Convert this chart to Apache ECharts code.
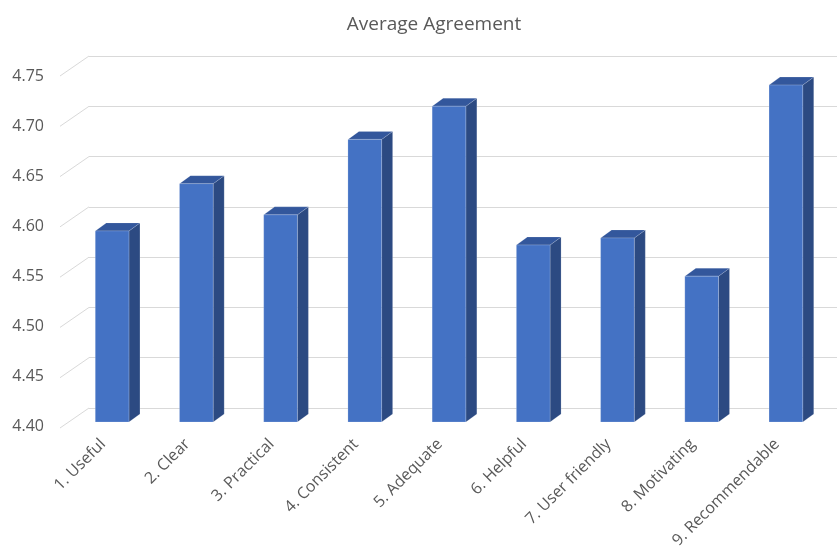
<!DOCTYPE html>
<html>
<head>
<meta charset="utf-8">
<script src="https://cdn.jsdelivr.net/npm/echarts@6/dist/echarts.min.js"></script>
<style>
  html, body { margin: 0; padding: 0; background: #fff; }
  #chart { width: 837px; height: 551px; }
</style>
</head>
<body>
<div id="chart"></div>
<script>
// Survey items and their mean agreement score
const categories = ['1. Useful', '2. Clear', '3. Practical', '4. Consistent', '5. Adequate',
                    '6. Helpful', '7. User friendly', '8. Motivating', '9. Recommendable'];
const agreement = [4.590, 4.637, 4.606, 4.681, 4.714, 4.576, 4.583, 4.545, 4.735];

// Value axis range and tick step
const yMin = 4.40;
const yMax = 4.75;
const yStep = 0.05;
const yTicks = [4.40, 4.45, 4.50, 4.55, 4.60, 4.65, 4.70, 4.75];

// Oblique 3D look: wall depth, bar front-face offset and bar depth (px)
const WALL = [29, -20];
const FACE = [-9, 14];
const DEPTH = [11, -8];

const TEXT = '#595959';
const FONT = "'Open Sans', 'Liberation Sans', sans-serif";

const chart = echarts.init(document.getElementById('chart'), null, { renderer: 'canvas' });

function bar3d(params, api) {
  const i = api.value(0);
  const v = api.value(1);
  const top = api.coord([i, v]);
  const base = api.coord([i, yMin]);
  const w = api.size([1, 0])[0] * 0.4;
  const x0 = top[0] + FACE[0] - w / 2;
  const x1 = x0 + w;
  const ty = top[1] + FACE[1];
  const by = base[1] + FACE[1];
  const dx = DEPTH[0], dy = DEPTH[1];
  return {
    type: 'group',
    children: [
      {
        type: 'polygon',
        shape: { points: [[x1, ty], [x1 + dx, ty + dy], [x1 + dx, by + dy], [x1, by]] },
        style: { fill: '#2C4A82', stroke: 'rgba(255,255,255,0.25)', lineWidth: 0.6 }
      },
      {
        type: 'polygon',
        shape: { points: [[x0, ty], [x0 + dx, ty + dy], [x1 + dx, ty + dy], [x1, ty]] },
        style: { fill: '#33579C', stroke: 'rgba(255,255,255,0.25)', lineWidth: 0.6 }
      },
      {
        type: 'rect',
        shape: { x: x0, y: ty, width: w, height: by - ty },
        style: { fill: '#4472C4', stroke: 'rgba(255,255,255,0.3)', lineWidth: 0.6 }
      }
    ]
  };
}

function wallDiagonal(params, api) {
  const y = api.coord([0, api.value(1)])[1];
  const x = params.coordSys.x;
  return {
    type: 'line',
    shape: { x1: x - WALL[0], y1: y - WALL[1], x2: x, y2: y },
    style: { stroke: '#D9D9D9', lineWidth: 1 }
  };
}

const hiddenCategory = (gridIndex) => ({
  type: 'category', gridIndex, data: categories,
  axisLine: { show: false }, axisTick: { show: false }, axisLabel: { show: false }
});
const hiddenValue = (gridIndex) => ({
  type: 'value', gridIndex, min: yMin, max: yMax, interval: yStep,
  axisLine: { show: false }, axisTick: { show: false }, axisLabel: { show: false },
  splitLine: { show: false }
});

const option = {
  backgroundColor: '#ffffff',
  animation: false,
  title: {
    text: 'Average Agreement',
    left: 429,
    top: 10,
    textAlign: 'center',
    textStyle: { color: TEXT, fontFamily: FONT, fontSize: 19, fontWeight: 'normal' }
  },
  grid: [
    // back wall with gridlines
    { left: 89, right: 0, top: 56, height: 352 },
    // front plane (carries the axis labels)
    { left: 61, width: 758, top: 76, height: 352 },
    // bar placement plane
    { left: 79, right: 0, top: 56, height: 352 }
  ],
  xAxis: [
    hiddenCategory(0),
    {
      type: 'category', gridIndex: 1, data: categories,
      axisLine: { show: false }, axisTick: { show: false },
      axisLabel: {
        rotate: 45, margin: 15, interval: 0,
        color: TEXT, fontFamily: FONT, fontSize: 16
      }
    },
    hiddenCategory(2)
  ],
  yAxis: [
    Object.assign(hiddenValue(0), {
      splitLine: { show: true, lineStyle: { color: '#D9D9D9', width: 1 } }
    }),
    {
      type: 'value', gridIndex: 1, min: yMin, max: yMax, interval: yStep,
      axisLine: { show: false }, axisTick: { show: false }, splitLine: { show: false },
      axisLabel: {
        margin: 17, color: TEXT, fontFamily: FONT, fontSize: 16,
        formatter: v => v.toFixed(2)
      }
    },
    hiddenValue(2)
  ],
  series: [
    {
      type: 'custom', xAxisIndex: 0, yAxisIndex: 0,
      renderItem: wallDiagonal,
      data: yTicks.map(t => [0, t]),
      silent: true, z: 1
    },
    {
      type: 'custom', name: 'Average Agreement', xAxisIndex: 2, yAxisIndex: 2,
      renderItem: bar3d,
      data: agreement.map((v, i) => [i, v]),
      z: 3
    }
  ]
};

chart.setOption(option);
</script>
</body>
</html>
